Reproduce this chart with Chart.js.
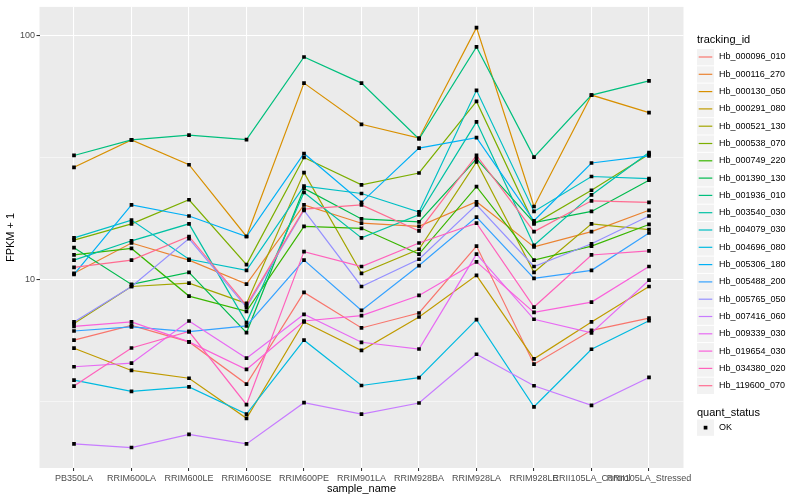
<!DOCTYPE html>
<html>
<head>
<meta charset="utf-8">
<title>FPKM + 1 by sample</title>
<script src="https://cdn.jsdelivr.net/npm/chart.js@4.4.1/dist/chart.umd.min.js"></script>
<style>
  html, body { margin: 0; padding: 0; background: #ffffff; }
  #wrap { width: 800px; height: 500px; }
</style>
</head>
<body>
<div id="wrap"><canvas id="fpkmChart" width="800" height="500"></canvas></div>
<script>
// samples on the x axis
const samples = ['PB350LA', 'RRIM600LA', 'RRIM600LE', 'RRIM600SE', 'RRIM600PE', 'RRIM901LA',
    'RRIM928BA', 'RRIM928LA', 'RRIM928LE', 'RRII105LA_Control', 'RRII105LA_Stressed'];

const trackingIds = ['Hb_000096_010', 'Hb_000116_270', 'Hb_000130_050', 'Hb_000291_080',
    'Hb_000521_130', 'Hb_000538_070', 'Hb_000749_220', 'Hb_001390_130', 'Hb_001936_010',
    'Hb_003540_030', 'Hb_004079_030', 'Hb_004696_080', 'Hb_005306_180', 'Hb_005488_200',
    'Hb_005765_050', 'Hb_007416_060', 'Hb_009339_030', 'Hb_019654_030', 'Hb_034380_020',
    'Hb_119600_070'];

// FPKM + 1, one value per sample
const hb000096 = [5.64, 6.49, 5.55, 3.73, 8.85, 6.33, 7.29, 13.7, 4.50, 6.19, 6.95];
const hb000116 = [10.6, 14.1, 12.0, 9.57, 20.2, 17.0, 16.5, 20.8, 13.6, 15.7, 19.2];
const hb000130 = [28.8, 37.3, 29.5, 15.0, 63.7, 43.2, 37.9, 107.5, 19.9, 56.9, 48.2];
const hb000291 = [5.23, 4.24, 3.94, 2.70, 6.70, 5.12, 7.02, 10.4, 4.73, 6.70, 9.36];
const hb000521 = [6.60, 9.36, 9.66, 7.98, 27.4, 10.6, 13.3, 30.3, 10.7, 16.9, 16.0];
const hb000538 = [14.5, 16.9, 21.2, 11.5, 31.6, 24.4, 27.3, 53.6, 16.9, 23.2, 32.6];
const hb000749 = [12.6, 13.4, 8.55, 7.40, 16.5, 16.2, 12.7, 24.0, 12.0, 13.7, 16.8];
const hb001390 = [13.5, 9.54, 10.7, 6.06, 23.6, 17.7, 17.2, 31.2, 17.1, 19.0, 25.5];
const hb001936 = [32.2, 37.3, 39.0, 37.4, 81.5, 63.7, 37.6, 89.6, 31.7, 56.9, 65.1];
const hb003540 = [12.0, 14.4, 16.9, 6.66, 22.7, 14.8, 18.4, 44.2, 13.8, 22.2, 33.1];
const hb004079 = [14.8, 17.5, 12.1, 10.9, 24.1, 22.5, 18.9, 59.5, 19.0, 26.4, 25.9];
const hb004696 = [3.87, 3.48, 3.63, 2.81, 5.64, 3.68, 3.96, 6.85, 3.01, 5.18, 6.78];
const hb005306 = [10.5, 20.2, 18.2, 15.0, 32.8, 20.7, 34.5, 38.1, 17.4, 30.0, 32.1];
const hb005488 = [6.15, 6.39, 6.12, 6.45, 12.0, 7.47, 11.4, 18.0, 10.1, 10.9, 15.5];
const hb005765 = [6.70, 9.36, 14.7, 7.69, 19.2, 9.36, 12.1, 20.2, 11.3, 14.0, 18.2];
const hb007416 = [2.12, 2.05, 2.32, 2.12, 3.13, 2.81, 3.12, 4.94, 3.67, 3.05, 3.97];
const hb009339 = [4.39, 4.54, 6.76, 4.76, 7.20, 5.53, 5.19, 12.7, 6.87, 6.04, 9.93];
const hb019654 = [6.43, 6.70, 5.55, 4.28, 6.76, 7.11, 8.60, 11.8, 7.33, 8.08, 11.3];
const hb034380 = [3.66, 5.24, 6.12, 3.07, 13.0, 11.3, 14.1, 17.0, 7.71, 12.6, 13.1];
const hb119600 = [11.2, 12.0, 15.0, 7.83, 19.4, 20.2, 15.8, 32.2, 15.7, 21.0, 20.7];

const seriesValues = [hb000096, hb000116, hb000130, hb000291, hb000521, hb000538, hb000749,
    hb001390, hb001936, hb003540, hb004079, hb004696, hb005306, hb005488, hb005765, hb007416,
    hb009339, hb019654, hb034380, hb119600];

// y axis: labelled ticks and the minor grid in between
const yTicks = [10, 100];
const yMinorTicks = [3.162, 31.62];

// ggplot hue palette, 20 levels
const lineColors = ['#F8766D', '#EA8331', '#D89000', '#C09B00', '#A3A500', '#7CAE00', '#39B600',
    '#00BB4E', '#00BF7D', '#00C1A3', '#00BFC4', '#00BAE0', '#00B0F6', '#35A2FF', '#9590FF',
    '#C77CFF', '#E76BF3', '#FA62DB', '#FF62BC', '#FF6C91'];

const FONT = "'Liberation Sans', Arial, sans-serif";
Chart.defaults.font.family = FONT;

function toPoints(values) {
    return values.map((v, i) => ({ x: i, y: v }));
}

// lines first, then the black squares on top
let datasets = [];
seriesValues.forEach((values, i) => {
    datasets.push({
        label: trackingIds[i],
        data: toPoints(values),
        borderColor: lineColors[i],
        borderWidth: 1.2,
        pointRadius: 0,
        tension: 0,
        order: 100 - i
    });
});
seriesValues.forEach((values, i) => {
    datasets.push({
        label: trackingIds[i] + ' OK',
        data: toPoints(values),
        showLine: false,
        pointStyle: 'rect',
        pointRadius: 2.6,
        pointBorderWidth: 0,
        pointBackgroundColor: '#000000',
        order: 0
    });
});

// grey panel behind the grid
const panelBackground = {
    id: 'panelBackground',
    beforeDraw(chart) {
        const { ctx, chartArea: a } = chart;
        ctx.save();
        ctx.fillStyle = '#EBEBEB';
        ctx.fillRect(a.left, a.top, a.right - a.left, a.bottom - a.top);
        ctx.restore();
    }
};

// ggplot style legends on the right
const ggLegend = {
    id: 'ggLegend',
    afterDraw(chart) {
        const ctx = chart.ctx;
        const x0 = 697;
        ctx.save();
        ctx.textBaseline = 'middle';
        ctx.textAlign = 'left';
        ctx.fillStyle = '#000000';
        ctx.font = '11px ' + FONT;
        ctx.fillText('tracking_id', x0, 40);

        ctx.font = '9px ' + FONT;
        trackingIds.forEach((id, i) => {
            const y = 57 + i * 17.3;
            ctx.fillStyle = '#F2F2F2';
            ctx.fillRect(x0, y - 8, 17, 16.3);
            ctx.strokeStyle = lineColors[i];
            ctx.lineWidth = 1.2;
            ctx.beginPath();
            ctx.moveTo(x0 + 1.7, y);
            ctx.lineTo(x0 + 15.3, y);
            ctx.stroke();
            ctx.fillStyle = '#000000';
            ctx.fillText(id, 719, y);
        });

        ctx.font = '11px ' + FONT;
        ctx.fillText('quant_status', x0, 412.5);
        ctx.fillStyle = '#F2F2F2';
        ctx.fillRect(x0, 419.5, 17, 16.3);
        ctx.fillStyle = '#000000';
        ctx.fillRect(x0 + 6.7, 425.8, 3.7, 3.7);
        ctx.font = '9px ' + FONT;
        ctx.fillText('OK', 719, 427.6);
        ctx.restore();
    }
};

const isMajor = c => c.tick && yTicks.includes(c.tick.value);

let ctx = document.getElementById('fpkmChart').getContext('2d');
let fpkmChart = new Chart(ctx, {
    type: 'line',
    data: { datasets: datasets },
    options: {
        responsive: false,
        animation: false,
        events: [],
        layout: { padding: { left: 0, top: 5.5, right: 116.5, bottom: 0 } },
        plugins: {
            legend: { display: false },
            tooltip: { enabled: false }
        },
        scales: {
            x: {
                type: 'linear',
                min: -0.6,
                max: 10.6,
                afterBuildTicks: s => { s.ticks = samples.map((_, i) => ({ value: i })); },
                afterFit: s => { s.height = 32; },
                ticks: {
                    callback: v => samples[v],
                    autoSkip: false,
                    maxRotation: 0,
                    minRotation: 0,
                    color: '#4D4D4D',
                    font: { size: 9 },
                    padding: 2
                },
                grid: { color: '#FFFFFF', lineWidth: 1.07, tickColor: '#333333', tickLength: 3 },
                border: { display: false },
                title: {
                    display: true,
                    text: 'sample_name',
                    color: '#000000',
                    font: { size: 11 },
                    padding: { top: 0, bottom: 4 }
                }
            },
            y: {
                type: 'logarithmic',
                min: 1.69,
                max: 130.7,
                afterBuildTicks: s => {
                    s.ticks = yMinorTicks.concat(yTicks).sort((a, b) => a - b).map(v => ({ value: v }));
                },
                afterFit: s => { s.width = 39.5; },
                ticks: {
                    callback: v => (yTicks.includes(v) ? String(v) : ''),
                    autoSkip: false,
                    color: '#4D4D4D',
                    font: { size: 9 },
                    padding: 1.5
                },
                grid: {
                    color: '#FFFFFF',
                    lineWidth: c => (isMajor(c) ? 1.07 : 0.53),
                    tickColor: c => (isMajor(c) ? '#333333' : 'rgba(0,0,0,0)'),
                    tickLength: 3
                },
                border: { display: false },
                title: {
                    display: true,
                    text: 'FPKM + 1',
                    color: '#000000',
                    font: { size: 11 },
                    padding: { top: 4, bottom: 0 }
                }
            }
        }
    },
    plugins: [panelBackground, ggLegend]
});
</script>
</body>
</html>
